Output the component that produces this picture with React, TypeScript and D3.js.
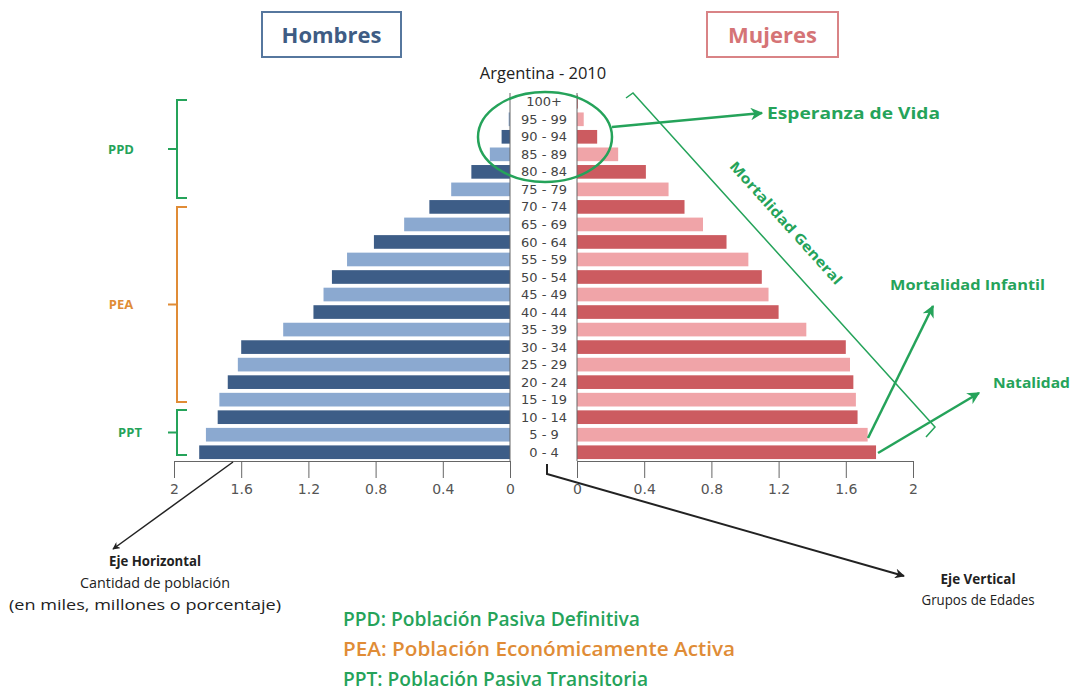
import * as d3 from 'd3'
import { useEffect, useRef } from 'react'

// grupos de edad, de abajo hacia arriba
const ageGroups = ['0 - 4', '5 - 9', '10 - 14', '15 - 19', '20 - 24', '25 - 29', '30 - 34', '35 - 39', '40 - 44', '45 - 49', '50 - 54', '55 - 59', '60 - 64', '65 - 69', '70 - 74', '75 - 79', '80 - 84', '85 - 89', '90 - 94', '95 - 99', '100+']
const hombres = [1.85, 1.81, 1.74, 1.73, 1.68, 1.62, 1.6, 1.35, 1.17, 1.11, 1.06, 0.97, 0.81, 0.63, 0.48, 0.35, 0.23, 0.12, 0.05, 0.008, 0]
const mujeres = [1.78, 1.73, 1.67, 1.66, 1.645, 1.625, 1.6, 1.365, 1.2, 1.14, 1.1, 1.02, 0.89, 0.75, 0.64, 0.545, 0.41, 0.245, 0.12, 0.04, 0.005]
const tickValues = [0, 0.4, 0.8, 1.2, 1.6, 2]
const legendLines = ['PPD: Población Pasiva Definitiva', 'PEA: Población Económicamente Activa', 'PPT: Población Pasiva Transitoria']

const GREEN = '#25a35a'
const ORANGE = '#e08c36'
const FONT = '"Open Sans", "DejaVu Sans", sans-serif'

export default function App() {
    const svgRef = useRef<SVGSVGElement>(null)

    useEffect(() => {
        makeChart(svgRef)
    }, [])

    function makeChart(svgRef: React.RefObject<SVGSVGElement>) {
        const width = 1075
        const height = 691
        const svg = d3.select(svgRef.current).attr('width', width).attr('height', height)
        svg.selectAll('*').remove()
        svg.append('rect').attr('width', width).attr('height', height).attr('fill', '#fff')

        const defs = svg.append('defs')
        const marker = (id: string, color: string) => defs.append('marker')
            .attr('id', id).attr('viewBox', '0 0 10 10').attr('refX', 9).attr('refY', 5)
            .attr('markerWidth', 5).attr('markerHeight', 5).attr('orient', 'auto-start-reverse')
            .append('path').attr('d', 'M0,0 L10,5 L0,10 L3,5 Z').attr('fill', color)
        marker('arrowGreen', GREEN)
        marker('arrowBlack', '#222')

        const xLeft = d3.scaleLinear().domain([0, 2]).range([510, 174])
        const xRight = d3.scaleLinear().domain([0, 2]).range([577, 913])
        const y = d3.scaleBand().domain(ageGroups.slice().reverse()).range([93, 461]).paddingInner(0.22).paddingOuter(0.11)
        const bw = y.bandwidth()

        const rows = ageGroups.map((g, i) => ({ g, i, h: hombres[i], m: mujeres[i] }))

        // barras hombres
        svg.append('g').selectAll('rect').data(rows).enter().append('rect')
            .attr('x', d => xLeft(d.h))
            .attr('y', d => y(d.g)!)
            .attr('width', d => xLeft(0) - xLeft(d.h))
            .attr('height', bw)
            .attr('fill', d => d.i % 2 === 0 ? '#3d5d87' : '#8ba9d0')

        // barras mujeres
        svg.append('g').selectAll('rect').data(rows).enter().append('rect')
            .attr('x', xRight(0))
            .attr('y', d => y(d.g)!)
            .attr('width', d => xRight(d.m) - xRight(0))
            .attr('height', bw)
            .attr('fill', d => d.i % 2 === 0 ? '#cc5b60' : '#f0a4a8')

        // columna central
        svg.append('g').selectAll('line').data([510, 577]).enter().append('line')
            .attr('x1', d => d).attr('x2', d => d).attr('y1', 93).attr('y2', 461)
            .attr('stroke', '#666').attr('stroke-width', 1)

        svg.append('g').selectAll('text').data(rows).enter().append('text')
            .attr('x', 544)
            .attr('y', d => y(d.g)! + bw / 2)
            .attr('dy', '0.35em')
            .attr('text-anchor', 'middle')
            .attr('font-family', '"DejaVu Sans", sans-serif')
            .attr('font-size', 13)
            .attr('fill', '#444')
            .text(d => d.g)

        // ejes
        const fmt = d3.format('~g')
        const drawAxis = (scale: d3.ScaleLinear<number, number>) => {
            const g = svg.append('g').attr('transform', 'translate(0,461)')
                .call(d3.axisBottom(scale).tickValues(tickValues).tickSize(17).tickSizeOuter(0).tickPadding(6).tickFormat(d => fmt(d as number)))
            g.select('.domain').attr('stroke', '#666')
            g.selectAll('.tick line').attr('stroke', '#666')
            g.selectAll('.tick text').attr('fill', '#555').attr('font-size', 14)
                .attr('font-family', '"DejaVu Sans", sans-serif')
        }
        drawAxis(xLeft)
        drawAxis(xRight)

        // titulo
        svg.append('text').attr('x', 543).attr('y', 79).attr('text-anchor', 'middle')
            .attr('font-family', FONT).attr('font-size', 16.5).attr('fill', '#222')
            .text('Argentina - 2010')

        // cajas Hombres / Mujeres
        const box = (x: number, w: number, label: string, stroke: string, fill: string) => {
            svg.append('rect').attr('x', x).attr('y', 12).attr('width', w).attr('height', 45)
                .attr('fill', '#fff').attr('stroke', stroke).attr('stroke-width', 2)
            svg.append('text').attr('x', x + w / 2).attr('y', 43).attr('text-anchor', 'middle')
                .attr('font-family', FONT).attr('font-weight', 700).attr('font-size', 22).attr('fill', fill)
                .text(label)
        }
        box(262, 139, 'Hombres', '#56779e', '#3e5c84')
        box(707, 131, 'Mujeres', '#d98386', '#d57476')

        // esperanza de vida
        svg.append('ellipse').attr('cx', 545).attr('cy', 137).attr('rx', 67).attr('ry', 45)
            .attr('fill', 'none').attr('stroke', GREEN).attr('stroke-width', 2.5)
        svg.append('line').attr('x1', 612).attr('y1', 127).attr('x2', 762).attr('y2', 113)
            .attr('stroke', GREEN).attr('stroke-width', 2.5).attr('marker-end', 'url(#arrowGreen)')
        const label = (x: number, yy: number, size: number, txt: string) =>
            svg.append('text').attr('x', x).attr('y', yy).attr('font-family', FONT).attr('font-weight', 700)
                .attr('font-size', size).attr('fill', GREEN).text(txt)
        label(767, 119, 16.5, 'Esperanza de Vida').attr('textLength', 173).attr('lengthAdjust', 'spacingAndGlyphs')

        // mortalidad general
        svg.append('path').attr('d', 'M626,98 L633,93 L935,427 L926,437')
            .attr('fill', 'none').attr('stroke', GREEN).attr('stroke-width', 1.5)
        svg.append('text').attr('transform', 'translate(786,223) rotate(48)')
            .attr('text-anchor', 'middle').attr('dy', '0.35em')
            .attr('font-family', FONT).attr('font-weight', 700).attr('font-size', 14).attr('fill', GREEN)
            .attr('textLength', 160).attr('lengthAdjust', 'spacingAndGlyphs')
            .text('Mortalidad General')

        // mortalidad infantil y natalidad
        svg.append('line').attr('x1', 868).attr('y1', 438).attr('x2', 933).attr('y2', 306)
            .attr('stroke', GREEN).attr('stroke-width', 2.5).attr('marker-end', 'url(#arrowGreen)')
        label(890, 290, 14, 'Mortalidad Infantil').attr('textLength', 155).attr('lengthAdjust', 'spacingAndGlyphs')
        svg.append('line').attr('x1', 878).attr('y1', 453).attr('x2', 979).attr('y2', 393)
            .attr('stroke', GREEN).attr('stroke-width', 2.5).attr('marker-end', 'url(#arrowGreen)')
        label(993, 388, 14, 'Natalidad').attr('textLength', 77).attr('lengthAdjust', 'spacingAndGlyphs')

        // llaves izquierda
        const brackets = [
            { name: 'PPD', top: 100, bottom: 198, color: GREEN },
            { name: 'PEA', top: 207, bottom: 402, color: ORANGE },
            { name: 'PPT', top: 410, bottom: 455, color: GREEN },
        ]
        brackets.forEach(b => {
            const mid = (b.top + b.bottom) / 2
            svg.append('path')
                .attr('d', `M187,${b.top} L177,${b.top} L177,${b.bottom} L187,${b.bottom} M177,${mid} L168,${mid}`)
                .attr('fill', 'none').attr('stroke', b.color).attr('stroke-width', 2)
            svg.append('text').attr('x', b.name === 'PPT' ? 130 : 121).attr('y', mid).attr('dy', '0.35em')
                .attr('text-anchor', 'middle').attr('font-family', FONT).attr('font-weight', 700)
                .attr('font-size', 13).attr('fill', b.color).text(b.name)
        })

        // ejes explicados
        svg.append('line').attr('x1', 233).attr('y1', 462).attr('x2', 113).attr('y2', 549)
            .attr('stroke', '#222').attr('stroke-width', 1.5).attr('marker-end', 'url(#arrowBlack)')
        svg.append('path').attr('d', 'M547,464 L547,474 L904,576')
            .attr('fill', 'none').attr('stroke', '#222').attr('stroke-width', 2).attr('marker-end', 'url(#arrowBlack)')

        const note = (x: number, yy: number, txt: string, bold: boolean, len: number) =>
            svg.append('text').attr('x', x).attr('y', yy).attr('text-anchor', 'middle')
                .attr('font-family', FONT).attr('font-weight', bold ? 700 : 400).attr('font-size', 14.5)
                .attr('fill', '#222').attr('textLength', len).attr('lengthAdjust', 'spacingAndGlyphs').text(txt)
        note(155, 566, 'Eje Horizontal', true, 92)
        note(155, 588, 'Cantidad de población', false, 150)
        note(145, 610, '(en miles, millones o porcentaje)', false, 272)
        note(978, 584, 'Eje Vertical', true, 75)
        note(978, 605, 'Grupos de Edades', false, 113)

        // leyenda
        const lens = [297, 392, 305]
        const cols = [GREEN, ORANGE, GREEN]
        legendLines.forEach((t, i) => {
            svg.append('text').attr('x', 343).attr('y', 626 + i * 30)
                .attr('font-family', FONT).attr('font-weight', 600).attr('font-size', 19)
                .attr('fill', cols[i]).attr('textLength', lens[i]).attr('lengthAdjust', 'spacingAndGlyphs')
                .text(t)
        })
    }

    return (
        <svg ref={svgRef} style={{ position: 'absolute', left: 0, top: 0 }}></svg>
    )
}
